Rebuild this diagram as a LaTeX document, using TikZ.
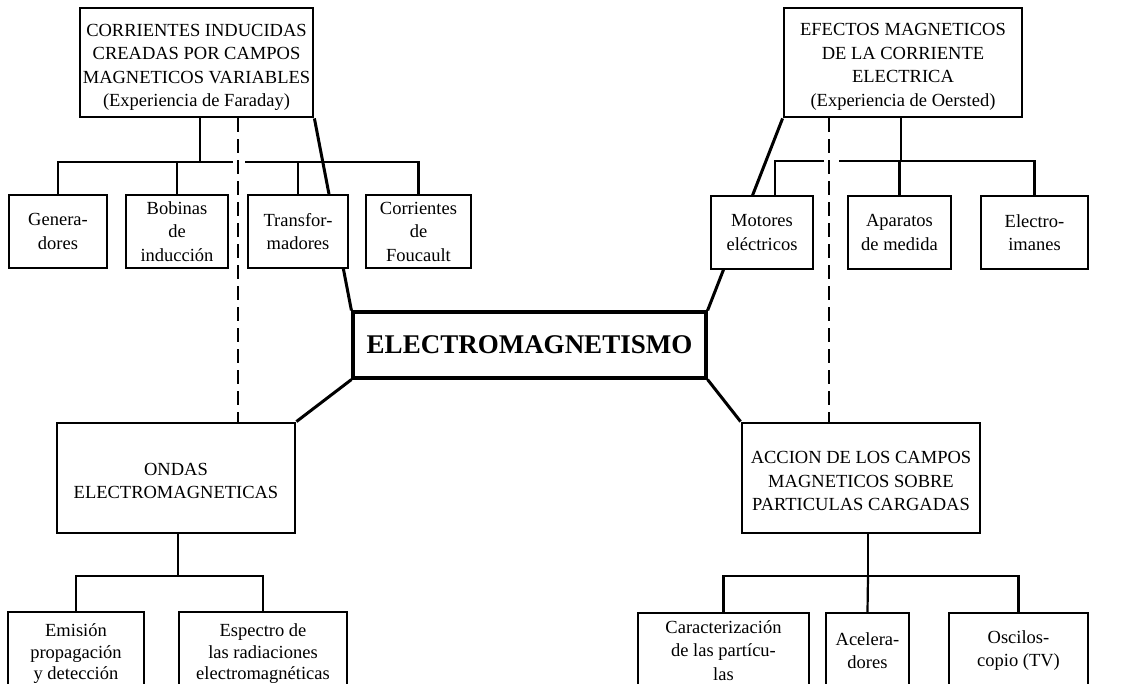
\documentclass[tikz,border=0pt]{standalone}
\usepackage{fontspec}
\setmainfont{Liberation Serif}
\pgfdeclarelayer{paper}
\pgfdeclarelayer{lines}
\pgfsetlayers{paper,lines,main}
\newcommand\fs{\fontsize{9.25}{11.75}\selectfont}
\newcommand\up[1]{\rule{0pt}{#1pt}}
\tikzset{
 mainbox/.style={draw, line width=1.4pt, fill=white, inner sep=0pt, align=center, font=\fs},
 subbox/.style={draw, line width=1pt, fill=white, inner sep=0pt, align=center, font=\fs},
 sz/.style 2 args={minimum width=#1pt, minimum height=#2pt},
 link/.style={line width=1.1pt},
 heavy/.style={line width=1.5pt},
 dashlink/.style={line width=1pt, dash pattern=on 7pt off 3.5pt},
}
\begin{document}
\begin{tikzpicture}[x=0.5pt,y=-0.5pt]
\clip (0,0) rectangle (1136,684);
\begin{pgfonlayer}{paper}
\fill[white] (0,0) rectangle (1136,684);
\end{pgfonlayer}
% main boxes
\node[mainbox, sz={116.5}{54.5}] (far) at (196.5,62.5) {\up{11}CORRIENTES INDUCIDAS\\CREADAS POR CAMPOS\\MAGNETICOS VARIABLES\\(Experiencia de Faraday)};
\node[mainbox, sz={119}{54.5}] (oer) at (903,62.5) {\up{10.5}EFECTOS MAGNETICOS\\DE LA CORRIENTE\\ELECTRICA\\(Experiencia de Oersted)};
\node[mainbox, line width=1.6pt, sz={176.5}{33}, font=\fontsize{13.5}{16}\selectfont\bfseries] (em) at (529.5,345) {ELECTROMAGNETISMO};
\node[mainbox, sz={119}{55}] (ondas) at (176,478) {\up{9}ONDAS\\ELECTROMAGNETICAS};
\node[mainbox, sz={119}{55}] (acc) at (861,478) {\up{9.5}ACCION DE LOS CAMPOS\\MAGNETICOS SOBRE\\PARTICULAS CARGADAS};
% sub boxes top left
\node[subbox, sz={49}{36.5}] (gen) at (58,231.5) {Genera-\\dores};
\node[subbox, sz={51}{36.5}] (bob) at (177,231.5) {Bobinas\\de\\inducción};
\node[subbox, sz={50}{36.5}] (tra) at (298,231.5) {Transfor-\\madores};
\node[subbox, sz={52.5}{36.5}] (fou) at (418.5,231.5) {Corrientes\\de\\Foucault};
% sub boxes top right
\node[subbox, sz={51}{36.5}] (mot) at (762,232.5) {Motores\\eléctricos};
\node[subbox, sz={51.5}{36.5}] (apa) at (899.5,232.5) {Aparatos\\de medida};
\node[subbox, sz={53.5}{36.5}] (ele) at (1034.5,232.5) {Electro-\\imanes};
% sub boxes bottom
\node[subbox, sz={68}{39}, font=\fontsize{9.25}{10.75}\selectfont] (emi) at (76,651) {\up{9}Emisión\\propagación\\y detección};
\node[subbox, sz={84}{39}, font=\fontsize{9.25}{10.75}\selectfont] (esp) at (263,651) {\up{9}Espectro de\\las radiaciones\\electromagnéticas};
\node[subbox, sz={85.5}{37.5}] (car) at (723.5,650.5) {Caracterización\\de las partícu-\\las};
\node[subbox, sz={41.5}{37.5}] (ace) at (867.5,650.5) {Acelera-\\dores};
\node[subbox, sz={69.5}{37.5}] (osc) at (1018.5,650.5) {Oscilos-\\copio (TV)};
% connectors
\begin{pgfonlayer}{lines}
\draw[heavy] (far.south east) -- (em.north west);
\draw[heavy] (oer.south west) -- (em.north east);
\draw[heavy] (em.south west) -- (ondas.north east);
\draw[heavy] (em.south east) -- (acc.north west);
% top left tree
\coordinate (fb) at (200,162);
\coordinate (fd) at (238,0);
\coordinate (fg1) at (233,162);
\coordinate (fg2) at (245,162);
\draw[link] (far.south -| fb) -- (fb);
\draw[link] (gen.north) |- (fg1);
\draw[link] (bob.north) -- (bob.north |- fb);
\draw[link] (fou.north) |- (fg2);
\draw[link] (tra.north) -- (tra.north |- fb);
\draw[dashlink] (far.south -| fd) -- (ondas.north -| fd);
% top right tree
\coordinate (ob) at (901,161);
\coordinate (od) at (829,0);
\coordinate (og1) at (824,161);
\coordinate (og2) at (839,161);
\coordinate (mx) at (775,0);
\draw[link] (oer.south -| ob) -- (ob);
\draw[link] (mot.north -| mx) |- (og1);
\draw[link] (ele.north) |- (og2);
\draw[link] (apa.north) -- (apa.north |- ob);
\draw[dashlink] (oer.south -| od) -- (acc.north -| od);
% bottom left tree
\coordinate (wb) at (178,576);
\draw[link] (ondas.south -| wb) -- (wb);
\draw[link] (emi.north) |- (wb) -| (esp.north);
% bottom right tree
\coordinate (ab) at (868,576);
\draw[link] (acc.south -| ab) -- (ab);
\draw[link] (car.north) |- (ab) -| (osc.north);
\draw[link] (ace.north) -- (ab);
\end{pgfonlayer}
\end{tikzpicture}
\end{document}
